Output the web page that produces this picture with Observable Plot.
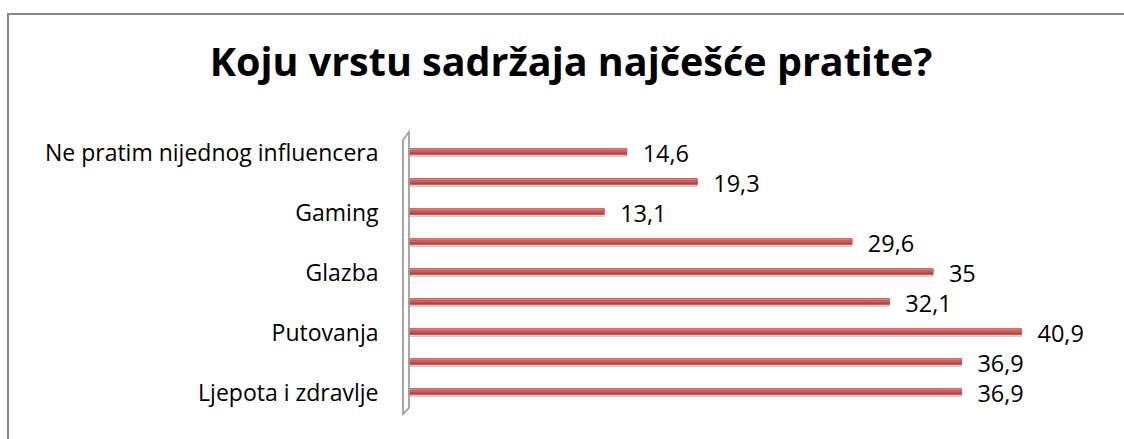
<!DOCTYPE html>
<html>
<head>
<meta charset="utf-8">
<script src="https://cdn.jsdelivr.net/npm/d3@7"></script>
<script src="https://cdn.jsdelivr.net/npm/@observablehq/plot@0.6"></script>
<style>
  html, body { margin: 0; padding: 0; background: #fff; }
  #wrap { position: relative; width: 1124px; height: 439px; overflow: hidden; font-family: "Open Sans", Lato, sans-serif; }
  #frame { position: absolute; left: 7px; top: 13px; width: 1200px; height: 600px; border: 2px solid #888; box-sizing: border-box; }
  #title { position: absolute; left: 0; width: 1142px; top: 42px; text-align: center; font-weight: bold; font-size: 39.5px; color: #000; line-height: 1; }
  #chart { position: absolute; left: 0; top: 0; }
</style>
</head>
<body>
<div id="wrap">
  <div id="frame"></div>
  <div id="title">Koju vrstu sadržaja najčešće pratite?</div>
  <div id="chart"></div>
</div>
<script>
const categoryLabels = ["Ne pratim nijednog influencera", "", "Gaming", "", "Glazba", "", "Putovanja", "", "Ljepota i zdravlje"];
const values = [14.6, 19.3, 13.1, 29.6, 35, 32.1, 40.9, 36.9, 36.9];

const data = values.map((v, i) => ({idx: i, label: categoryLabels[i], value: v}));
const fmt = v => String(v).replace(".", ",");
const labelFont = "'Open Sans', Lato, sans-serif";

const plot = Plot.plot({
  width: 1124,
  height: 439,
  marginLeft: 408,
  marginRight: 40.5,
  marginTop: 136,
  marginBottom: 33,
  style: {fontFamily: labelFont, background: "transparent"},
  x: {domain: [0, 45], axis: null},
  y: {type: "band", domain: d3.range(values.length), padding: 0, label: null},
  marks: [
    Plot.axisY({tickSize: 0, tickPadding: 30, tickFormat: i => categoryLabels[i], fontSize: 23, fill: "#000", label: null, dy: 2}),
    Plot.ruleY(data, {y: "idx", x1: 0, x2: "value", stroke: "#cfcfcf", strokeWidth: 8, dy: 1.5}),
    Plot.ruleY(data, {y: "idx", x1: 0, x2: "value", stroke: "#b8413e", strokeWidth: 6.5}),
    Plot.ruleY(data, {y: "idx", x1: 0, x2: "value", stroke: "#d15c59", strokeWidth: 3, dy: -0.5}),
    Plot.ruleY(data, {y: "idx", x1: 0, x2: "value", stroke: "#de7a77", strokeWidth: 1, dy: -2}),
    Plot.text(data, {y: "idx", x: "value", text: d => fmt(d.value), dx: 15, dy: 2.5, textAnchor: "start", fontSize: 23.5, fill: "#000"})
  ]
});

// 3D axis wall (decorative bracket) at x = 0, spanning the plotted band range
const xs = plot.scale("x"), ys = plot.scale("y");
const x0 = xs.apply(0);
const yTop = ys.range[0] - 4, yBot = ys.range[1] + 6;
d3.select(plot).append("path")
  .attr("d", `M${x0 - 5},${yTop + 8} L${x0 + 1},${yTop} L${x0 + 1},${yBot - 4} L${x0 - 5},${yBot + 2} Z`)
  .attr("fill", "none").attr("stroke", "#a0a0a0").attr("stroke-width", 1.8);

document.getElementById("chart").appendChild(plot);
</script>
</body>
</html>
